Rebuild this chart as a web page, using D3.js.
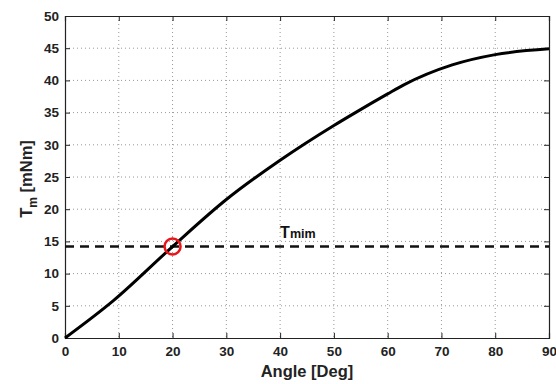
<!DOCTYPE html>
<html>
<head>
<meta charset="utf-8">
<script src="https://cdn.jsdelivr.net/npm/d3@7"></script>
<style>
  body { margin: 0; background: #fff; }
  text { font-family: "Liberation Sans", Arial, sans-serif; font-weight: bold; }
</style>
</head>
<body>
<svg id="chart" width="556" height="384"></svg>
<script>
"use strict";

// torque curve
let angles = [0, 9, 20, 30, 40, 50, 54, 60, 63, 72, 80, 90];
let torque = [0, 5.8, 14.2, 21.5, 27.6, 33.0, 35.0, 37.9, 39.3, 42.4, 44, 44.9];
let xTicks = [0, 10, 20, 30, 40, 50, 60, 70, 80, 90];
let yTicks = [0, 5, 10, 15, 20, 25, 30, 35, 40, 45, 50];
let tMin = 14.2;
let markAngle = 20;

let margin = { top: 16, right: 7, bottom: 46, left: 65 };
let svg = d3.select("#chart");
let W = 556 - margin.left - margin.right;
let H = 384 - margin.top - margin.bottom;

let x = d3.scaleLinear().domain([0, 90]).range([0, W]);
let y = d3.scaleLinear().domain([0, 50]).range([H, 0]);

let g = svg.append("g").attr("transform", `translate(${margin.left},${margin.top})`);

// grid
g.selectAll(".vgrid").data(xTicks.slice(1, -1)).enter().append("line")
  .attr("x1", d => x(d)).attr("x2", d => x(d)).attr("y1", 0).attr("y2", H)
  .attr("stroke", "#999").attr("stroke-width", 1).attr("stroke-dasharray", "1,3");
g.selectAll(".hgrid").data(yTicks.slice(1, -1)).enter().append("line")
  .attr("y1", d => y(d)).attr("y2", d => y(d)).attr("x1", 0).attr("x2", W)
  .attr("stroke", "#999").attr("stroke-width", 1).attr("stroke-dasharray", "1,3");

// axes with inner ticks, MATLAB box style
let xAxis = d3.axisBottom(x).tickValues(xTicks).tickSize(-5).tickPadding(8);
let yAxis = d3.axisLeft(y).tickValues(yTicks).tickSize(-5).tickPadding(6);
g.append("g").attr("transform", `translate(0,${H})`).call(xAxis);
g.append("g").call(yAxis);
g.append("g").call(d3.axisTop(x).tickValues(xTicks).tickSize(-5).tickFormat(""));
g.append("g").attr("transform", `translate(${W},0)`).call(d3.axisRight(y).tickValues(yTicks).tickSize(-5).tickFormat(""));
g.selectAll(".domain").attr("stroke", "#222").attr("stroke-width", 1.2);
g.selectAll(".tick line").attr("stroke", "#222");
g.selectAll(".tick text").attr("font-size", 13.5).attr("fill", "#222")
  .style("font-family", "Liberation Sans, Arial, sans-serif").style("font-weight", "bold");

// threshold line
g.append("line")
  .attr("x1", x(0)).attr("x2", x(90)).attr("y1", y(tMin)).attr("y2", y(tMin))
  .attr("stroke", "#111").attr("stroke-width", 2.5).attr("stroke-dasharray", "9,6");

// curve
let line = d3.line().x((d, i) => x(angles[i])).y(d => y(d)).curve(d3.curveMonotoneX);
g.append("path").datum(torque)
  .attr("d", line).attr("fill", "none").attr("stroke", "#000").attr("stroke-width", 3);

// marker
g.append("circle")
  .attr("cx", x(markAngle)).attr("cy", y(tMin)).attr("r", 8)
  .attr("fill", "none").attr("stroke", "#e8151b").attr("stroke-width", 2.5);

// Tmim label
let lab = g.append("text").attr("x", x(40)).attr("y", y(tMin) - 9).attr("font-size", 16).attr("fill", "#111");
lab.append("tspan").text("T");
lab.append("tspan").attr("font-size", 12.5).text("mim");

// axis titles
svg.append("text").attr("x", margin.left + W / 2).attr("y", 377)
  .attr("text-anchor", "middle").attr("font-size", 16.5).attr("fill", "#222").text("Angle [Deg]");

let yl = svg.append("text")
  .attr("transform", `translate(32,${margin.top + H / 2 + 2}) rotate(-90)`)
  .attr("text-anchor", "middle").attr("font-size", 16.5).attr("fill", "#222");
yl.append("tspan").text("T");
yl.append("tspan").attr("font-size", 12).attr("dy", 5).text("m");
yl.append("tspan").attr("dy", -5).text(" [mNm]");
</script>
</body>
</html>
